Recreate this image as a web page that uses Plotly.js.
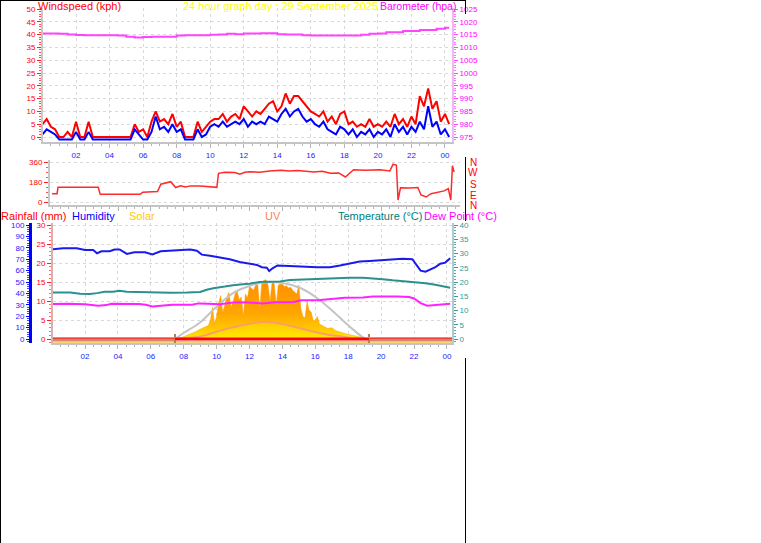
<!DOCTYPE html>
<html><head><meta charset="utf-8">
<script src="https://cdn.plot.ly/plotly-3.0.1.min.js"></script>
<style>html,body{margin:0;padding:0;background:#fff;}#chart{width:761px;height:543px;}</style>
</head><body><div id="chart"></div>
<script>
const W = 761, H = 543;
const px = v => v / W, py = v => 1 - v / H;

// ---------- data ----------
const hourTicks = [2,4,6,8,10,12,14,16,18,20,22,24];
const hourLabels = ['02','04','06','08','10','12','14','16','18','20','22','00'];

// wind speed sampled every 15 minutes from 00:00
const windStep = 0.25;
const windGust = [5,7,4,3,0,0,2,0,6,0,0,6,0,0,0,0,0,0,0,0,0,0,5,2,3,0,6,10,6,7,5,9,4,6,0,0,0,6,2,4,6,7,7,9,6,8,9,7,12,10,8,10,9,11,13,14,10,12,17,13,16,16,14,12,10,9,8,10,6,8,5,9,10,5,6,4,5,4,7,4,5,4,6,4,9,5,7,4,8,5,16,12,19,11,14,6,9,5];
const windAvg  = [1,3,2,1,-1,-1,-1,-1,2,-1,-1,2,-1,-1,-1,-1,-1,-1,-1,-1,-1,-1,3,1,-1,-1,2,8,3,4,2,5,2,3,-1,-1,-1,3,0,1,4,5,4,6,4,5,6,5,7,4,6,5,6,5,8,7,6,9,11,8,10,11,8,6,7,5,4,6,3,2,1,4,3,1,3,0,2,1,3,0,2,1,3,0,5,2,4,1,4,2,6,3,12,4,6,1,3,0];
const windHours = windGust.map((_, i) => i * windStep);

const baroHours = [0,0.5,1,1.5,2,2.5,3,3.5,4,4.5,5,5.5,6,6.5,7,7.5,8,8.5,9,9.5,10,10.5,11,11.5,12,12.5,13,13.5,14,14.5,15,15.5,16,16.5,17,17.5,18,18.5,19,19.5,20,20.5,21,21.5,22,22.5,23,23.5,24,24.25];
const baro = [1015.4,1015.4,1015.3,1015.0,1014.8,1014.7,1014.7,1014.7,1014.7,1014.6,1014.2,1013.9,1014.1,1014.2,1014.2,1014.2,1014.6,1014.7,1014.7,1014.7,1014.9,1015.0,1015.3,1015.1,1015.4,1015.4,1015.5,1015.5,1015.1,1015.0,1015.0,1014.7,1014.6,1014.6,1014.6,1014.6,1014.6,1014.6,1014.9,1015.35,1015.4,1015.9,1015.9,1016.4,1016.4,1016.8,1016.8,1017.3,1017.7,1017.7];

const dirHours = [0,0.3,0.36,2.8,2.92,5.35,5.5,6.4,6.6,7.2,7.5,7.8,8.1,8.4,9.0,9.8,10.0,10.1,10.5,11.1,11.4,11.7,12.0,12.6,13.2,13.9,14.4,14.9,15.4,15.9,16.4,16.9,17.4,17.8,18.3,19.0,19.9,20.5,20.7,20.9,21.0,21.15,21.7,22.2,22.4,22.7,23.0,23.4,23.8,24.05,24.2,24.3,24.4];
const windDir  = [75,75,132,132,70,70,88,95,160,183,130,145,135,145,145,132,132,258,268,265,250,268,272,268,280,285,278,283,275,270,276,258,262,225,290,286,290,280,340,330,18,129,125,130,63,45,75,85,100,120,18,327,270];

const humHours = [0.05,0.66,1.5,2.0,2.5,2.73,3.0,3.5,3.8,4.1,4.55,5.0,5.65,6.1,6.6,7.2,7.8,8.4,8.8,9.1,9.6,10.2,10.8,11.4,12.0,12.45,12.75,13.05,13.2,13.4,13.7,14.15,15.1,16.1,16.9,17.5,18.1,18.7,19.3,19.9,20.5,21.3,21.9,22.1,22.4,22.7,23.0,23.3,23.6,23.9,24.2];
const humidity = [78.7,79.5,79.5,78,78,75.2,77,77,78.5,78.5,74.6,76,76,74.1,77,77.5,78.4,78.4,77.5,74,73,71.5,70,67.5,66,65,63,62.5,59.6,62,64.5,64,63.5,63,63,64.5,66,68,68.5,69,69.3,70.5,70,66,60,59,61,63,66,67,70.8];

const tempHours = [0.05,1.1,1.7,2.3,2.73,3.2,3.7,4.1,4.55,5.35,6.1,7.2,8.2,9.0,9.4,9.8,10.5,11.0,11.6,12.0,12.6,13.2,13.85,14.45,14.9,15.7,16.6,17.3,18.1,18.9,19.6,20.1,20.7,21.3,22.2,22.7,23.3,23.8,24.2];
const temperature = [16.3,16.3,15.9,15.8,16.1,16.6,16.6,16.9,16.6,16.4,16.3,16.2,16.3,16.5,17.3,17.8,18.4,18.9,19.2,19.4,20.0,20.1,20.2,20.7,20.8,21.2,21.3,21.4,21.5,21.5,21.3,21.0,20.6,20.3,20.1,19.6,19.0,18.5,18.0];

const dewHours = [0.05,1.0,2.0,2.8,3.3,3.6,5.3,5.7,6.1,6.8,7.3,8.5,8.9,9.5,10.2,11.0,11.8,12.8,13.5,14.7,15.1,16.3,16.9,17.8,18.9,19.5,21.0,21.7,22.0,22.4,22.8,23.4,24.2];
const dewPoint = [12.3,12.4,12.2,11.7,11.9,12.4,12.3,12.0,11.4,11.6,12.0,12.0,12.5,12.4,12.2,12.8,12.9,12.5,12.9,13.0,13.6,13.7,14.0,14.5,14.6,14.9,14.9,14.7,14.2,12.6,11.7,12.0,12.4];

const solarHours = [7.25,7.5,7.75,8.0,8.25,8.5,8.75,9.0,9.25,9.5,9.625,9.75,9.875,10.0,10.125,10.25,10.375,10.5,10.625,10.75,10.875,11.0,11.125,11.25,11.375,11.5,11.625,11.75,11.875,12.0,12.125,12.25,12.375,12.5,12.625,12.75,12.875,13.0,13.125,13.25,13.375,13.5,13.625,13.75,13.875,14.0,14.125,14.25,14.375,14.5,14.625,14.75,14.875,15.0,15.125,15.25,15.375,15.5,15.625,15.75,15.875,16.0,16.125,16.25,16.375,16.5,16.75,17.0,17.25,17.5,17.75,18.0,18.25,18.5,18.75,19.0,19.25];
const solar = [0,5,15,30,50,80,100,130,150,180,250,420,200,300,480,580,350,450,560,620,420,500,600,640,520,560,300,600,550,700,680,650,720,730,400,760,780,790,720,500,760,740,450,720,730,730,700,710,680,690,650,620,600,720,400,300,280,500,380,360,240,250,300,200,180,170,140,150,110,90,80,60,50,40,25,10,0];

const solarMaxHours = [7.47,8.0,8.95,10.0,11.0,12.0,12.95,14.0,15.1,16.1,17.1,18.1,19.0,19.26];
const solarMax = [0,80,213,431,613,707,756,747,680,547,364,164,9,0];

const uvHours = [7.47,8.0,8.95,10.0,10.8,11.8,12.8,13.8,14.7,15.7,16.7,17.7,18.5,19.26];
const uvIndex = [0,0.2,0.5,1.6,2.4,3.2,3.7,3.4,2.7,1.8,1.0,0.5,0.15,0];

const rainHours = [0.055,24.31];
const rainfall = [0,0];

const sunriseHour = 7.47, sunsetHour = 19.26;

// ---------- traces ----------
const font = 'Liberation Sans, Arial, sans-serif';
const traces = [
  {x: windHours, y: windGust, xaxis:'x', yaxis:'y', mode:'lines', line:{color:'#ff0000', width:2}},
  {x: windHours, y: windAvg, xaxis:'x', yaxis:'y', mode:'lines', line:{color:'#0000ff', width:2}},
  {x: baroHours, y: baro, xaxis:'x', yaxis:'y2', mode:'lines', line:{color:'#ff44ff', width:2, shape:'hv'}},
  {x: dirHours, y: windDir, xaxis:'x2', yaxis:'y3', mode:'lines', line:{color:'#ff2a2a', width:1.5}},
  {x: solarHours, y: solar, xaxis:'x3', yaxis:'y4', mode:'lines', fill:'tozeroy',
   fillgradient:{type:'vertical', colorscale:[[0,'#ffee00'],[0.2,'#ffc400'],[0.45,'#ffa500'],[1,'#ff9000']], start:0, stop:780},
   line:{color:'#ff9a00', width:0.5}},
  {x: solarMaxHours, y: solarMax, xaxis:'x3', yaxis:'y4', mode:'lines', line:{color:'#c4c4c4', width:2, shape:'spline'}},
  {x: uvHours, y: uvIndex, xaxis:'x3', yaxis:'y5', mode:'lines', fill:'tozeroy', fillcolor:'rgba(255,230,0,0.5)', line:{color:'#ff9a6a', width:2, shape:'spline'}},
  {x: rainHours, y: rainfall, xaxis:'x3', yaxis:'y6', mode:'lines', line:{color:'#ff0000', width:3}},
  {x: humHours, y: humidity, xaxis:'x3', yaxis:'y7', mode:'lines', line:{color:'#1a1aee', width:2}},
  {x: tempHours, y: temperature, xaxis:'x3', yaxis:'y8', mode:'lines', line:{color:'#2a9090', width:2}},
  {x: dewHours, y: dewPoint, xaxis:'x3', yaxis:'y8', mode:'lines', line:{color:'#ff22ff', width:2}}
];

const tickF = c => ({family: font, size: 8, color: c});
const grid = {showgrid:true, gridcolor:'#d9d9d9', griddash:'dot', gridwidth:1};
const xTimeAxis = (dom, rng, anchor, labels) => Object.assign({
  domain: dom, range: rng, anchor: anchor, tickmode:'array', tickvals: hourTicks, ticktext: hourLabels,
  showticklabels: labels, tickfont: tickF('#1a1aff'), showline:true, linecolor:'#c4c4c4', linewidth:2,
  ticks:'outside', ticklen:4, tickcolor:'#b4b4b4', zeroline:false,
  minor:{tickmode:'linear', tick0:0, dtick:0.5, ticks:'outside', ticklen:2, tickcolor:'#b4b4b4', showgrid:false}
}, grid);

const layout = {
  width: W, height: H, margin:{l:0, r:0, t:0, b:0}, paper_bgcolor:'#ffffff', plot_bgcolor:'#ffffff',
  showlegend:false, font:{family:font},
  xaxis: xTimeAxis([px(43), px(452)], [0.03, 24.42], 'y', true),
  yaxis: Object.assign({domain:[py(142), py(8)], range:[-1.95, 50.39], anchor:'x', tickmode:'array',
    tickvals:[0,5,10,15,20,25,30,35,40,45,50], tickfont: tickF('#ff0000'), showline:true, linecolor:'#c8c8c8', linewidth:2,
    ticks:'outside', ticklen:4, tickcolor:'#ff2020', zeroline:false,
    minor:{tickmode:'linear', tick0:0, dtick:1, ticks:'outside', ticklen:2, tickcolor:'#ff5050', showgrid:false}}, grid),
  yaxis2: {overlaying:'y', side:'right', anchor:'x', range:[973.05, 1025.39], tickmode:'array',
    tickvals:[975,980,985,990,995,1000,1005,1010,1015,1020,1025], tickfont: tickF('#ff00ff'), showline:true, linecolor:'#f0b8f0', linewidth:2,
    ticks:'outside', ticklen:4, tickcolor:'#ff44ff', zeroline:false, showgrid:false,
    minor:{tickmode:'linear', tick0:975, dtick:1, ticks:'outside', ticklen:2, tickcolor:'#ff77ff'}},
  xaxis2: Object.assign(xTimeAxis([px(50), px(460)], [-0.128, 24.76], 'y3', false), {showgrid:false}),
  yaxis3: Object.assign({domain:[py(205), py(160)], range:[-27, 378], anchor:'x2', tickmode:'array',
    tickvals:[0,180,360], ticktext:['0','180','360'], tickfont: tickF('#ff0000'), showline:true, linecolor:'#c8c8c8', linewidth:2,
    ticks:'outside', ticklen:4, tickcolor:'#ff2020', zeroline:false,
    minor:{tickmode:'linear', tick0:0, dtick:45, ticks:'outside', ticklen:2, tickcolor:'#ff5050', showgrid:false}}, grid),
  xaxis3: xTimeAxis([px(53), px(452)], [0.055, 24.31], 'y4', true),
  yaxis4: {domain:[py(343), py(223)], range:[-53.3, 1546.7], anchor:'x3', showticklabels:false, showline:false, ticks:'', showgrid:false, zeroline:false},
  yaxis5: {overlaying:'y4', anchor:'x3', range:[-0.877, 25.44], showticklabels:false, showline:false, ticks:'', showgrid:false, zeroline:false},
  yaxis6: Object.assign({overlaying:'y4', side:'left', anchor:'x3', range:[-1.05, 30.53], tickmode:'array',
    tickvals:[0,5,10,15,20,25,30], tickfont: tickF('#ff0000'), showline:true, linecolor:'#d8b0b0', linewidth:2,
    ticks:'outside', ticklen:4, tickcolor:'#ff2020', zeroline:false,
    minor:{tickmode:'linear', tick0:0, dtick:1, ticks:'outside', ticklen:2, tickcolor:'#ff7070', showgrid:false}}, grid),
  yaxis7: {overlaying:'y4', side:'left', anchor:'free', position: px(30), range:[-3.51, 101.75], tickmode:'array',
    tickvals:[0,10,20,30,40,50,60,70,80,90,100], tickfont: tickF('#1a1aff'), showline:true, linecolor:'#0000ff', linewidth:3,
    ticks:'outside', ticklen:3, tickcolor:'#0000ff', zeroline:false, showgrid:false,
    minor:{tickmode:'linear', tick0:0, dtick:2, ticks:'outside', ticklen:2, tickcolor:'#4040ff'}},
  yaxis8: {overlaying:'y4', side:'right', anchor:'x3', range:[-1.40, 40.70], tickmode:'array',
    tickvals:[0,5,10,15,20,25,30,35,40], tickfont: tickF('#2a9d9d'), showline:true, linecolor:'#b0cccc', linewidth:2,
    ticks:'outside', ticklen:4, tickcolor:'#3a9a9a', zeroline:false, showgrid:false,
    minor:{tickmode:'linear', tick0:0, dtick:1, ticks:'outside', ticklen:2, tickcolor:'#5aaaaa'}},
  shapes: [
    {type:'rect', xref:'x3', yref:'y6', x0:0.055, x1:sunriseHour, y0:-0.55, y1:0.15, fillcolor:'#d8846e', line:{width:0}, layer:'above'},
    {type:'rect', xref:'x3', yref:'y6', x0:sunsetHour, x1:24.31, y0:-0.55, y1:0.15, fillcolor:'#d8846e', line:{width:0}, layer:'above'},
    {type:'rect', xref:'x3', yref:'y6', x0:0.055, x1:24.31, y0:-0.98, y1:-0.55, fillcolor:'#f6c84a', line:{width:0}, layer:'above'},
    {type:'line', xref:'x3', yref:'y6', x0:sunriseHour, x1:sunriseHour, y0:-1.05, y1:2.1, line:{color:'#a88058', width:2, dash:'dot'}},
    {type:'line', xref:'x3', yref:'y6', x0:sunsetHour, x1:sunsetHour, y0:-1.05, y1:2.1, line:{color:'#a88058', width:2, dash:'dot'}},
    {type:'line', xref:'paper', yref:'paper', x0:px(0.5), x1:px(0.5), y0:0, y1:1, line:{color:'#000', width:1}},
    {type:'line', xref:'paper', yref:'paper', x0:0, x1:px(466), y0:py(0.5), y1:py(0.5), line:{color:'#000', width:1}},
    {type:'line', xref:'paper', yref:'paper', x0:px(465.5), x1:px(465.5), y0:py(0), y1:py(14), line:{color:'#000', width:1}},
    {type:'line', xref:'paper', yref:'paper', x0:px(465.5), x1:px(465.5), y0:py(157), y1:py(221), line:{color:'#000', width:1}},
    {type:'line', xref:'paper', yref:'paper', x0:px(465.5), x1:px(465.5), y0:py(358), y1:py(543), line:{color:'#000', width:1}}
  ],
  annotations: []
};

const ann = (text, x, y, color, xanchor, yanchor, size) => ({
  text: text, x: px(x), y: py(y), xref:'paper', yref:'paper', showarrow:false,
  xanchor: xanchor, yanchor: yanchor, font:{family:font, size: size || 11, color: color}, borderpad:0
});
layout.annotations.push(
  ann('Windspeed (kph)', 37, -1, '#ff0000', 'left', 'top'),
  ann('24 hour graph day : 29 September 2025', 280, -1, '#ffff00', 'center', 'top'),
  ann('Barometer (hpa)', 457, -1, '#ff00ff', 'right', 'top', 10.5),
  ann('Rainfall (mm)', 0, 216, '#ff0000', 'left', 'middle'),
  ann('Humidity', 71, 216, '#0000ff', 'left', 'middle'),
  ann('Solar', 128, 216, '#ffc800', 'left', 'middle'),
  ann('UV', 273, 216, '#ff7f50', 'center', 'middle'),
  ann('Temperature (°C)', 337, 216, '#008080', 'left', 'middle'),
  ann('Dew Point (°C)', 423, 216, '#ff00ff', 'left', 'middle')
);
const compass = ['N','W','S','E','N'];
const compassY = [162, 173, 184.5, 195, 206];
compass.forEach((c, i) => layout.annotations.push(ann(c, 473, compassY[i], '#ff0000', 'center', 'middle', 10)));

Plotly.newPlot('chart', traces, layout, {displayModeBar:false, staticPlot:true});
</script></body></html>
